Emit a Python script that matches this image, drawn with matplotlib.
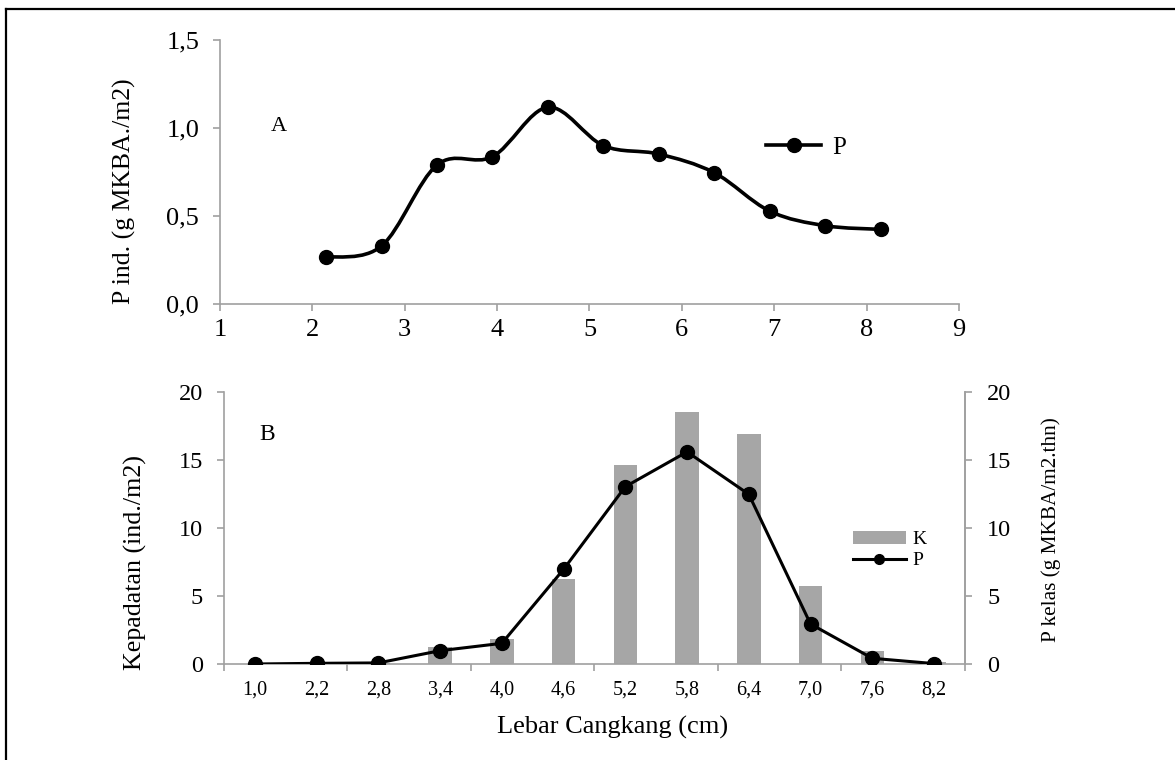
import matplotlib

matplotlib.use("Agg")
import matplotlib.pyplot as plt
import numpy as np
from matplotlib.lines import Line2D
from matplotlib.patches import PathPatch
from matplotlib.path import Path

plt.rcParams["font.family"] = ["Liberation Serif", "DejaVu Serif"]

# panel A: individual production per shell width
x_a = [2.15, 2.75, 3.35, 3.95, 4.55, 5.15, 5.75, 6.35, 6.95, 7.55, 8.15]
p_ind = [0.265, 0.33, 0.79, 0.837, 1.118, 0.90, 0.852, 0.746, 0.528, 0.445, 0.424]
a_xticks = [1, 2, 3, 4, 5, 6, 7, 8, 9]
a_yticks = [0.0, 0.5, 1.0, 1.5]
a_ylabels = ["0,0", "0,5", "1,0", "1,5"]

# panel B: density (bars) and class production (line)
classes = ["1,0", "2,2", "2,8", "3,4", "4,0", "4,6", "5,2", "5,8", "6,4", "7,0", "7,6", "8,2"]
k_density = [0, 0, 0.05, 1.27, 1.84, 6.25, 14.6, 18.5, 16.9, 5.7, 0.95, 0.15]
p_kelas = [0, 0.05, 0.08, 0.98, 1.52, 6.96, 13.04, 15.6, 12.48, 2.94, 0.42, 0.03]
b_yticks = [0, 5, 10, 15, 20]

GRAY = "#a0a0a0"
BAR = "#a6a6a6"


def smooth_path(xs, ys):
    # Excel-like smoothed line: Catmull-Rom as cubic bezier segments
    pts = np.column_stack([xs, ys]).astype(float)
    n = len(pts)
    verts = [pts[0]]
    codes = [Path.MOVETO]
    for i in range(n - 1):
        p0 = pts[max(i - 1, 0)]
        p1 = pts[i]
        p2 = pts[i + 1]
        p3 = pts[min(i + 2, n - 1)]
        verts += [p1 + (p2 - p0) / 6.0, p2 - (p3 - p1) / 6.0, p2]
        codes += [Path.CURVE4] * 3
    return Path(verts, codes)


def style_axis(ax, sides):
    for s in ["left", "right", "top", "bottom"]:
        ax.spines[s].set_visible(s in sides)
        ax.spines[s].set_color(GRAY)
        ax.spines[s].set_linewidth(1.2)


fig = plt.figure(figsize=(11.75, 7.6), dpi=100)

# ---- panel A
ax1 = fig.add_axes([0.1872, 0.6, 0.629, 0.3474])
style_axis(ax1, ["left", "bottom"])
ax1.add_patch(PathPatch(smooth_path(x_a, p_ind), fill=False, edgecolor="black",
                        linewidth=2.6, zorder=2))
ax1.plot(x_a, p_ind, "o", color="black", markersize=10, zorder=3)
ax1.set_xlim(1, 9)
ax1.set_ylim(0, 1.5)
ax1.set_xticks(a_xticks)
ax1.set_yticks(a_yticks)
ax1.set_yticklabels(a_ylabels)
ax1.tick_params(axis="both", direction="out", color=GRAY, width=1.2, length=5,
                labelsize=19)
ax1.tick_params(axis="y", pad=10)
ax1.tick_params(axis="x", pad=6)
ax1.set_ylabel("P ind. (g MKBA./m2)", fontsize=18.5)
ax1.yaxis.set_label_coords(-0.1286, 0.428)
ax1.yaxis.label.set_va("center")
ax1.text(0.08, 0.674, "A", transform=ax1.transAxes, fontsize=16,
         ha="center", va="center")
h_a = Line2D([], [], color="black", linewidth=2.6, marker="o", markersize=10)
ax1.legend([h_a], ["P"], loc="center left", bbox_to_anchor=(0.739, 0.591),
           frameon=False, fontsize=18, handlelength=2.2, handletextpad=0.45,
           borderpad=0, borderaxespad=0)

# ---- panel B
ax2 = fig.add_axes([0.1906, 0.1263, 0.6306, 0.3579])
style_axis(ax2, ["left", "bottom", "right"])
pos = np.arange(len(classes))
bars = ax2.bar(pos, k_density, width=0.38, color=BAR, zorder=2, label="K")
ax2.set_xlim(-0.5, len(classes) - 0.5)
ax2.set_ylim(0, 20)
ax2.set_yticks(b_yticks)
ax2.set_xticks(np.arange(-0.5, len(classes), 2))
ax2.set_xticklabels([])
ax2.set_xticks(pos, minor=True)
ax2.set_xticklabels(classes, minor=True)
ax2.tick_params(axis="x", which="major", direction="out", color=GRAY, width=1.2,
                length=5)
ax2.tick_params(axis="x", which="minor", length=0, labelsize=14.5, pad=12)
ax2.tick_params(axis="y", direction="out", color=GRAY, width=1.2, length=5,
                labelsize=17.5, pad=10)
ax2.set_ylabel("Kepadatan (ind./m2)", fontsize=18.7)
ax2.yaxis.set_label_coords(-0.119, 0.373)
ax2.yaxis.label.set_va("center")
ax2.set_xlabel("Lebar Cangkang (cm)", fontsize=19)
ax2.xaxis.set_label_coords(0.524, -0.232)
ax2.xaxis.label.set_va("center")
ax2.text(0.059, 0.842, "B", transform=ax2.transAxes, fontsize=17,
         ha="center", va="center")

ax3 = ax2.twinx()
style_axis(ax3, ["right"])
line, = ax3.plot(pos, p_kelas, "-o", color="black", linewidth=2.2, markersize=10,
                 zorder=3, label="P")
ax3.set_ylim(0, 20)
ax3.set_yticks(b_yticks)
ax3.tick_params(axis="y", direction="out", color=GRAY, width=1.2, length=5,
                labelsize=17.5, pad=11)
ax3.set_ylabel("P kelas (g MKBA/m2.thn)", fontsize=15.3)
ax3.yaxis.set_label_coords(1.117, 0.493)
ax3.yaxis.label.set_va("center")
ax3.legend([bars, line], ["K", "P"], loc="center left",
           bbox_to_anchor=(0.849, 0.419), frameon=False, fontsize=14,
           handlelength=2.7, handleheight=0.62, handletextpad=0.36,
           labelspacing=0.2, markerscale=0.7, borderpad=0, borderaxespad=0)

# outer frame (only top and left edges visible)
fx = 6 / 1175
fy = 1 - 9 / 760
fig.add_artist(Line2D([fx, 1], [fy, fy], transform=fig.transFigure,
                      color="black", linewidth=1.6))
fig.add_artist(Line2D([fx, fx], [0, fy], transform=fig.transFigure,
                      color="black", linewidth=1.6))

fig.savefig("out.png", dpi=100)
plt.close(fig)
